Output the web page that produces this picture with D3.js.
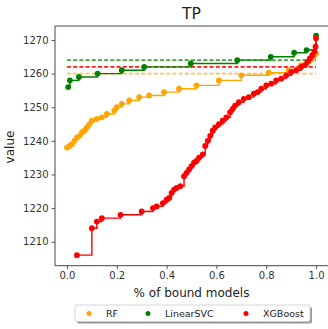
<!DOCTYPE html>
<html>
<head>
<meta charset="utf-8">
<script src="https://cdn.jsdelivr.net/npm/d3@7"></script>
<style>
  body { margin: 0; background: #fff; }
  svg { display: block; font-family: "DejaVu Sans", sans-serif; }
</style>
</head>
<body>
<div id="main"></div>
<script>
// series names + colours
var seriesNames = ['RF', 'LinearSVC', 'XGBoost'];
var seriesColors = ['orange', 'green', 'red'];

// dashed reference levels (RF, LinearSVC, XGBoost)
var refValues = [1260, 1264, 1262];

// RF
var rfPct = [0.00, 0.01, 0.02, 0.03, 0.04, 0.05, 0.06, 0.07, 0.08, 0.09, 0.10, 0.12, 0.14, 0.16, 0.19,
    0.20, 0.22, 0.25, 0.29, 0.33, 0.39, 0.45, 0.52, 0.61, 0.70, 0.81, 0.89, 0.94, 0.97, 0.99, 1.00];
var rfValue = [1238, 1238.5, 1239, 1240, 1241, 1241.5, 1242.5, 1243, 1244, 1245, 1246, 1246.5, 1247, 1248, 1249,
    1250, 1251, 1252, 1253, 1253.5, 1254.5, 1255.5, 1256.5, 1258, 1259.5, 1260.3, 1261, 1262.5, 1263.5, 1265, 1266];

// LinearSVC
var svcPct = [0.005, 0.012, 0.048, 0.123, 0.22, 0.31, 0.497, 0.684, 0.818, 0.912, 0.962, 1.0];
var svcValue = [1256, 1258, 1259, 1260, 1261, 1262, 1263, 1264, 1265, 1266.2, 1267, 1271.3];

// XGBoost
var xgbPct = [0.04, 0.10, 0.12, 0.14, 0.215, 0.30, 0.345, 0.36, 0.385, 0.40, 0.41, 0.42, 0.43, 0.44, 0.455,
    0.47, 0.48, 0.49, 0.50, 0.51, 0.52, 0.53, 0.545, 0.555, 0.565, 0.575, 0.585, 0.595, 0.61, 0.625,
    0.64, 0.655, 0.665, 0.675, 0.69, 0.71, 0.73, 0.75, 0.765, 0.78, 0.80, 0.82, 0.84, 0.86, 0.88,
    0.90, 0.92, 0.94, 0.955, 0.965, 0.975, 0.985, 0.993, 0.998, 1.0];
var xgbValue = [1206, 1214, 1216, 1217, 1218, 1219, 1220, 1220.5, 1221.5, 1222.5, 1223, 1224.5, 1225.5, 1226, 1226.5,
    1229.5, 1230.5, 1231.5, 1232.5, 1233.5, 1234, 1235, 1236, 1238.5, 1240, 1241.5, 1243, 1244, 1245, 1246,
    1247, 1248.5, 1249.5, 1250.5, 1251.5, 1252.5, 1253, 1254, 1254.5, 1255.5, 1256.5, 1257, 1258, 1258.5, 1259.5,
    1260.5, 1261, 1262, 1262.5, 1263.5, 1264.5, 1265.5, 1266.5, 1268, 1270.5];

var xTicks = [0.0, 0.2, 0.4, 0.6, 0.8, 1.0];
var yTicks = [1210, 1220, 1230, 1240, 1250, 1260, 1270];

var series = [
    { name: seriesNames[0], color: seriesColors[0], pts: d3.zip(rfPct, rfValue) },
    { name: seriesNames[1], color: seriesColors[1], pts: d3.zip(svcPct, svcValue) },
    { name: seriesNames[2], color: seriesColors[2], pts: d3.zip(xgbPct, xgbValue) }
];

var W = 328, H = 329;
var margin = { top: 26, left: 55, bottom: 265.7 };

var svg = d3.select('#main').append('svg')
    .attr('width', W)
    .attr('height', H);

var xScale = d3.scaleLinear().domain([-0.048, 1.048]).range([margin.left, 328]);
var yScale = d3.scaleLinear().domain([1202.86, 1274.16]).range([margin.bottom, margin.top]);

// axes
var xAxis = d3.axisBottom(xScale).tickValues(xTicks).tickFormat(d3.format('.1f')).tickSize(3.5).tickPadding(3);
var yAxis = d3.axisLeft(yScale).tickValues(yTicks).tickFormat(d3.format('d')).tickSize(3.5).tickPadding(3);

var xAxisEl = svg.append('g')
    .attr('transform', 'translate(0,' + margin.bottom + ')')
    .call(xAxis);
var yAxisEl = svg.append('g')
    .attr('transform', 'translate(' + margin.left + ',0)')
    .call(yAxis);

[xAxisEl, yAxisEl].forEach(function (g) {
    g.select('.domain').remove();
    g.selectAll('line').attr('stroke', '#333').attr('stroke-width', 0.8);
    g.selectAll('text').attr('font-size', 10).attr('fill', '#333').attr('font-family', 'DejaVu Sans');
});

// spines (left, bottom, top; right one falls off the picture)
svg.append('path')
    .attr('d', 'M' + W + ',' + margin.top + 'H' + margin.left + 'V' + margin.bottom + 'H' + W)
    .attr('fill', 'none')
    .attr('stroke', '#333')
    .attr('stroke-width', 0.9);

// dashed reference lines
var dashAlpha = [0.7, 0.75, 0.9];
series.forEach(function (s, i) {
    svg.append('line')
        .attr('x1', xScale(0)).attr('x2', xScale(1))
        .attr('y1', yScale(refValues[i])).attr('y2', yScale(refValues[i]))
        .attr('stroke', s.color)
        .attr('stroke-opacity', dashAlpha[i])
        .attr('stroke-width', 1.6)
        .attr('stroke-dasharray', '4,2.2');
});

// step lines + markers
var line = d3.line()
    .x(function (d) { return xScale(d[0]); })
    .y(function (d) { return yScale(d[1]); })
    .curve(d3.curveStepAfter);

series.forEach(function (s) {
    svg.append('path')
        .datum(s.pts)
        .attr('d', line)
        .attr('fill', 'none')
        .attr('stroke', s.color)
        .attr('stroke-width', 1.4);

    svg.append('g').selectAll('circle')
        .data(s.pts)
        .enter()
        .append('circle')
        .attr('cx', function (d) { return xScale(d[0]); })
        .attr('cy', function (d) { return yScale(d[1]); })
        .attr('r', 2.9)
        .attr('fill', s.color);
});

// title and axis labels
svg.append('text')
    .attr('x', 191.5).attr('y', 18.5)
    .attr('text-anchor', 'middle')
    .attr('font-size', 15.5)
    .attr('fill', '#222')
    .text('TP');

svg.append('text')
    .attr('x', 191.5).attr('y', 297)
    .attr('text-anchor', 'middle')
    .attr('font-size', 12)
    .attr('fill', '#222')
    .text('% of bound models');

svg.append('text')
    .attr('transform', 'translate(14,147) rotate(-90)')
    .attr('text-anchor', 'middle')
    .attr('font-size', 12)
    .attr('fill', '#222')
    .text('value');

// legend
var legend = svg.append('g').attr('transform', 'translate(75,305)');
legend.append('rect')
    .attr('x', 2).attr('y', 2).attr('width', 235).attr('height', 16.5).attr('rx', 2)
    .attr('fill', '#999');
legend.append('rect')
    .attr('x', 0).attr('y', 0).attr('width', 235).attr('height', 16.5).attr('rx', 2)
    .attr('fill', '#fff').attr('stroke', '#ccc').attr('stroke-width', 0.8);

var legendX = [14, 73, 171];
series.forEach(function (s, i) {
    legend.append('circle')
        .attr('cx', legendX[i]).attr('cy', 8.5).attr('r', 2.5)
        .attr('fill', s.color);
    legend.append('text')
        .attr('x', legendX[i] + 17).attr('y', 12)
        .attr('font-size', 9.5)
        .attr('fill', '#222')
        .text(s.name);
});
</script>
</body>
</html>
